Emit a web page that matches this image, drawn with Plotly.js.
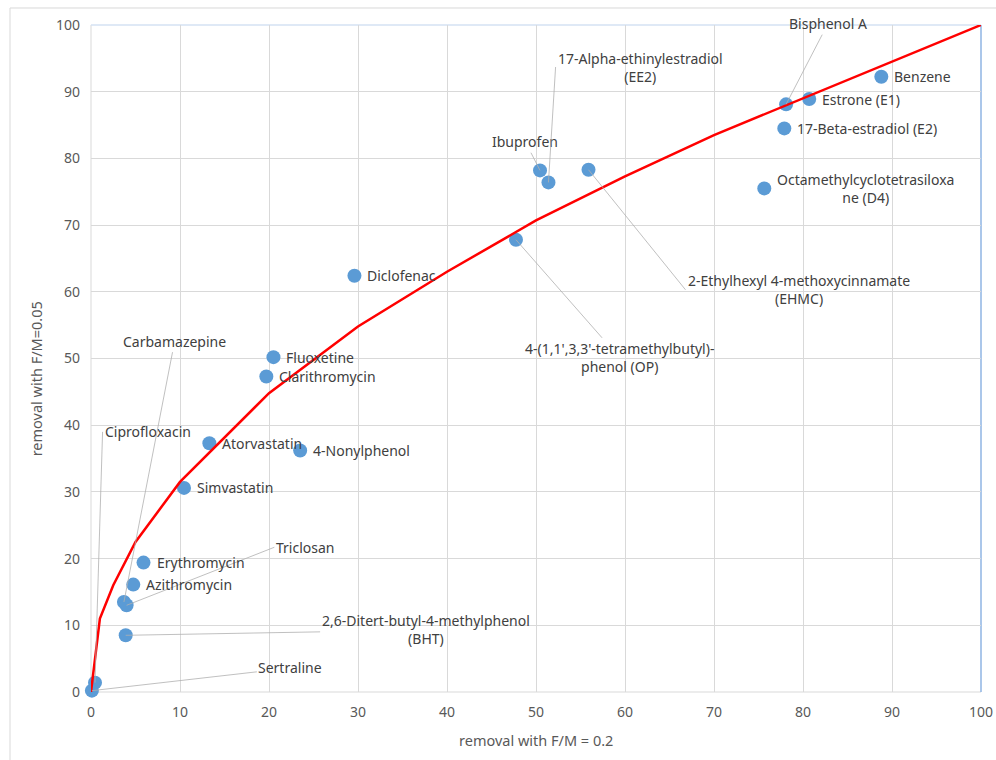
<!DOCTYPE html>
<html>
<head>
<meta charset="utf-8">
<script src="https://cdn.plot.ly/plotly-3.0.1.min.js"></script>
<style>
  html, body { margin: 0; padding: 0; background: #ffffff; }
  #chart { width: 996px; height: 760px; }
</style>
</head>
<body>
<div id="chart"></div>
<script>
// ---- data ----
const compounds = [
  "Sertraline", "Ciprofloxacin", "2,6-Ditert-butyl-4-methylphenol<br>(BHT)", "Carbamazepine",
  "Triclosan", "Azithromycin", "Erythromycin", "Simvastatin", "Atorvastatin",
  "4-Nonylphenol", "Clarithromycin", "Fluoxetine", "Diclofenac",
  "4-(1,1',3,3'-tetramethylbutyl)-<br>phenol (OP)", "Ibuprofen",
  "17-Alpha-ethinylestradiol<br>(EE2)", "2-Ethylhexyl 4-methoxycinnamate<br>(EHMC)",
  "Octamethylcyclotetrasiloxa<br>ne (D4)", "17-Beta-estradiol (E2)", "Bisphenol A",
  "Estrone (E1)", "Benzene"
];
const removalFM02 = [
  0.1, 0.45, 3.9, 3.7,
  4.0, 4.75, 5.9, 10.45, 13.3,
  23.5, 19.7, 20.5, 29.6,
  47.75, 50.45,
  51.4, 55.9,
  75.65, 77.9, 78.1,
  80.7, 88.8
];
const removalFM005 = [
  0.2, 1.4, 8.5, 13.5,
  13.0, 16.1, 19.4, 30.6, 37.3,
  36.2, 47.3, 50.2, 62.4,
  67.8, 78.2,
  76.4, 78.3,
  75.5, 84.5, 88.1,
  88.9, 92.25
];
const curveX = [0, 1, 2.5, 5, 10, 20, 30, 40, 50, 60, 70, 80, 90, 100];
const curveY = [0, 11, 16, 22.5, 31.5, 44.8, 54.8, 63, 70.7, 77.3, 83.5, 89, 94.5, 100];
const tickVals = [0, 10, 20, 30, 40, 50, 60, 70, 80, 90, 100];
const xTitle = "removal with F/M = 0.2";
const yTitle = "removal with F/M=0.05";

// ---- label placement (layout only) ----
const labelPlacement = {
  "Sertraline": {lx: 22.4, ly: 3.6, xa: "center"},
  "Ciprofloxacin": {lx: 1.3, ly: 39.0, xa: "left"},
  "2,6-Ditert-butyl-4-methylphenol<br>(BHT)": {lx: 37.6, ly: 9.3, xa: "center"},
  "Carbamazepine": {lx: 9.4, ly: 52.6, xa: "center"},
  "Triclosan": {lx: 20.6, ly: 21.7, xa: "left"},
  "4-(1,1',3,3'-tetramethylbutyl)-<br>phenol (OP)": {lx: 59.4, ly: 50.1, xa: "center"},
  "Ibuprofen": {lx: 48.8, ly: 82.5, xa: "center"},
  "17-Alpha-ethinylestradiol<br>(EE2)": {lx: 52.2, ly: 93.7, xa: "left"},
  "2-Ethylhexyl 4-methoxycinnamate<br>(EHMC)": {lx: 66.8, ly: 60.3, xa: "left"},
  "Bisphenol A": {lx: 82.8, ly: 100.2, xa: "center"}
};

const labelFont = {family: "Noto Sans, sans-serif", size: 14, color: "#404040"};

const annotations = compounds.map((name, i) => {
  const p = labelPlacement[name];
  if (!p) {
    return {
      x: removalFM02[i], y: removalFM005[i], xref: "x", yref: "y",
      text: name, showarrow: false, xanchor: "left", yanchor: "middle",
      xshift: 11, align: "center", font: labelFont
    };
  }
  return {
    x: removalFM02[i], y: removalFM005[i], xref: "x", yref: "y",
    ax: p.lx, ay: p.ly, axref: "x", ayref: "y",
    text: name, showarrow: true, arrowhead: 0, arrowwidth: 0.8,
    arrowcolor: "#b0b0b0", standoff: 0, startstandoff: 0,
    xanchor: p.xa, yanchor: "middle", align: "center", font: labelFont
  };
});

annotations.push({
  xref: "paper", yref: "paper", x: 0.5, y: -0.072, yanchor: "middle",
  text: xTitle, showarrow: false,
  font: {family: "Noto Sans, sans-serif", size: 14.5, color: "#595959"}
});
annotations.push({
  xref: "paper", yref: "paper", x: -0.062, y: 0.47, xanchor: "center",
  text: yTitle, showarrow: false, textangle: -90,
  font: {family: "Noto Sans, sans-serif", size: 14.5, color: "#595959"}
});

const traces = [
  {
    x: removalFM02, y: removalFM005, text: compounds,
    type: "scatter", mode: "markers", cliponaxis: false,
    marker: {color: "#5b9bd5", size: 14},
    hoverinfo: "text+x+y", showlegend: false
  },
  {
    x: curveX, y: curveY, type: "scatter", mode: "lines",
    line: {color: "#ff0000", width: 2.5}, cliponaxis: false,
    showlegend: false, hoverinfo: "skip"
  }
];

const axisCommon = {
  range: [0, 100], tickvals: tickVals, ticktext: tickVals.map(String),
  showgrid: true, gridcolor: "#d9d9d9", gridwidth: 1,
  zeroline: false, showline: false, ticks: "",
  ticklabelstandoff: 10,
  tickfont: {family: "Noto Sans, sans-serif", size: 14, color: "#595959"},
  fixedrange: true
};

const layout = {
  width: 996, height: 760,
  margin: {l: 91, r: 15, t: 25, b: 68},
  paper_bgcolor: "#ffffff", plot_bgcolor: "#ffffff",
  xaxis: Object.assign({}, axisCommon),
  yaxis: Object.assign({}, axisCommon),
  annotations: annotations,
  shapes: [
    {type: "line", xref: "paper", yref: "paper", x0: 0, x1: 1, y0: 0, y1: 0,
     line: {color: "#d9d9d9", width: 1}, layer: "below"},
    {type: "line", xref: "paper", yref: "paper", x0: 0, x1: 0, y0: 0, y1: 1,
     line: {color: "#d9d9d9", width: 1}, layer: "below"},
    {type: "line", xref: "paper", yref: "paper", x0: 0, x1: 1, y0: 1, y1: 1,
     line: {color: "#d4e2f3", width: 1.5}, layer: "below"},
    {type: "line", xref: "paper", yref: "paper", x0: 1, x1: 1, y0: 0, y1: 1,
     line: {color: "#8fb4e3", width: 1.5}, layer: "below"},
    {type: "rect", xref: "paper", yref: "paper", x0: -0.091, x1: 1.05, y0: -0.2, y1: 1.0255,
     line: {color: "#d9d9d9", width: 1}, layer: "below"}
  ],
  showlegend: false
};

Plotly.newPlot("chart", traces, layout, {displayModeBar: false, staticPlot: true});
</script>
</body>
</html>
